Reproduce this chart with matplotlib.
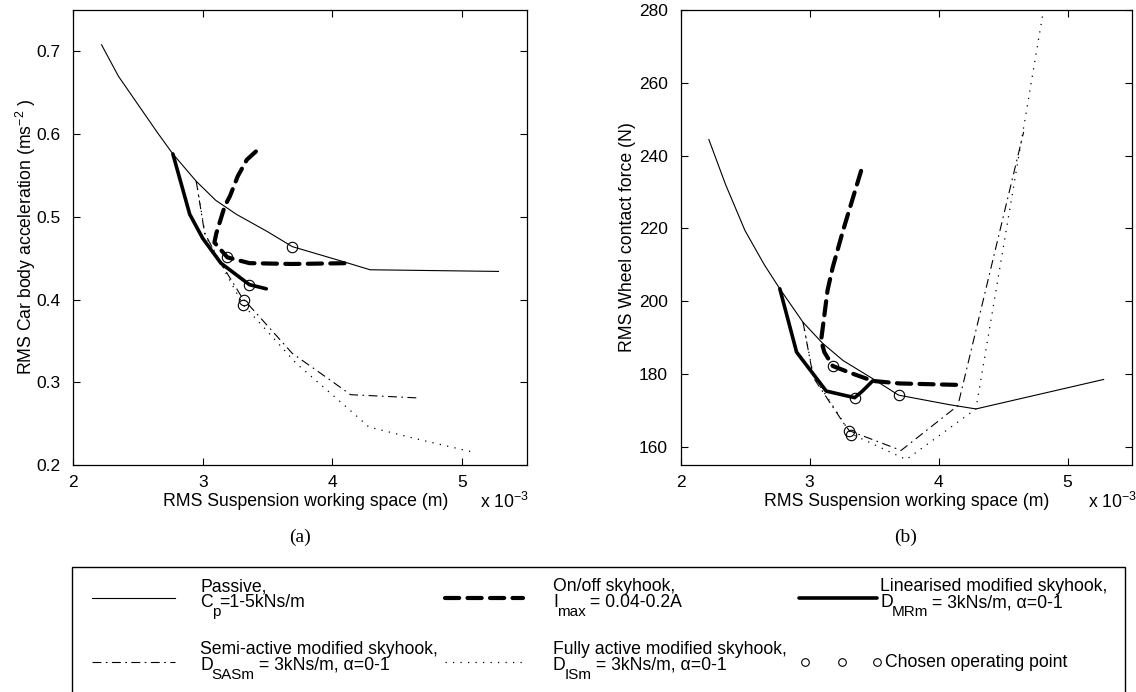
import matplotlib
matplotlib.use("Agg")
import matplotlib.pyplot as plt
from matplotlib.patches import Rectangle

plt.rcParams['font.family'] = ['Liberation Sans', 'DejaVu Sans']
plt.rcParams['mathtext.fontset'] = 'custom'
plt.rcParams['mathtext.rm'] = 'Liberation Sans'
plt.rcParams['mathtext.it'] = 'Liberation Sans:italic'
plt.rcParams['mathtext.bf'] = 'Liberation Sans:bold'

# ---------------- data: (a) RMS car body acceleration ----------------
passive_a_x = [2.22, 2.35, 2.5, 2.65, 2.77, 2.95, 3.1, 3.26, 3.5, 3.69, 4.08, 4.29, 5.28]
passive_a_y = [0.708, 0.67, 0.636, 0.602, 0.576, 0.543, 0.52, 0.503, 0.482, 0.464, 0.446, 0.436, 0.434]

onoff_a_x = [3.41, 3.34, 3.27, 3.21, 3.17, 3.105, 3.09, 3.19, 3.36, 3.69, 4.13]
onoff_a_y = [0.579, 0.569, 0.549, 0.525, 0.513, 0.48, 0.469, 0.451, 0.444, 0.443, 0.444]

lin_a_x = [2.77, 2.90, 3.0, 3.14, 3.36, 3.49]
lin_a_y = [0.576, 0.503, 0.474, 0.444, 0.418, 0.413]

semi_a_x = [2.95, 3.015, 3.14, 3.305, 3.41, 3.69, 3.98, 4.14, 4.67]
semi_a_y = [0.543, 0.48, 0.444, 0.402, 0.384, 0.335, 0.303, 0.285, 0.281]

full_a_x = [2.95, 3.02, 3.14, 3.31, 3.49, 3.72, 4.13, 4.28, 4.69, 5.1]
full_a_y = [0.543, 0.478, 0.443, 0.394, 0.363, 0.323, 0.267, 0.246, 0.230, 0.215]

chosen_a_x = [3.69, 3.19, 3.36, 3.32, 3.31]
chosen_a_y = [0.464, 0.451, 0.418, 0.399, 0.394]

# ---------------- data: (b) RMS wheel contact force ----------------
passive_b_x = [2.22, 2.35, 2.5, 2.65, 2.77, 2.95, 3.1, 3.26, 3.5, 3.69, 4.08, 4.29, 5.28]
passive_b_y = [244.4, 232.0, 219.4, 210.0, 203.4, 194.2, 188.5, 183.7, 178.5, 174.2, 171.6, 170.4, 178.5]

onoff_b_x = [3.40, 3.335, 3.26, 3.18, 3.14, 3.09, 3.115, 3.18, 3.31, 3.49, 3.70, 4.16]
onoff_b_y = [235.8, 228.2, 219.4, 209.3, 203.0, 189.2, 186.0, 182.2, 180.4, 178.1, 177.4, 177.0]

lin_b_x = [2.77, 2.90, 3.13, 3.35, 3.41, 3.49]
lin_b_y = [203.4, 186.0, 175.3, 173.5, 175.3, 178.1]

semi_b_x = [2.95, 3.03, 3.27, 3.31, 3.71, 4.15, 4.66]
semi_b_y = [194.2, 179.0, 166.2, 164.4, 159.0, 171.3, 246.5]

full_b_x = [2.95, 3.03, 3.32, 3.75, 4.29, 4.69, 5.10]
full_b_y = [194.2, 179.5, 163.6, 156.5, 170.4, 254.0, 340.0]

chosen_b_x = [3.69, 3.18, 3.35, 3.31, 3.32]
chosen_b_y = [174.2, 182.2, 173.5, 164.4, 163.2]

x_ticks = [2, 3, 4, 5]
a_yticks = [0.2, 0.3, 0.4, 0.5, 0.6, 0.7]
b_yticks = [160, 180, 200, 220, 240, 260, 280]

# ---------------- styles ----------------
W, H = 1136, 692
fig = plt.figure(figsize=(W / 100, H / 100), dpi=100)

FS = 12.7
st_passive = dict(color='black', lw=0.8, ls='-')
st_onoff = dict(color='black', lw=3.0, ls=(0, (3.4, 2.0)), dash_capstyle='round')
st_lin = dict(color='black', lw=2.6, ls='-', solid_capstyle='round', solid_joinstyle='round')
st_semi = dict(color='black', lw=0.8, ls=(0, (8, 4, 1.5, 4)))
st_full = dict(color='black', lw=0.9, ls=(0, (1, 5)))
st_circ = dict(ls='none', marker='o', ms=7.5, mfc='none', mec='black', mew=0.8)


def px_axes(x0, y0, x1, y1):
    return [x0 / W, 1 - y1 / H, (x1 - x0) / W, (y1 - y0) / H]


def style_axes(ax, ylim, yticks, yfmt):
    ax.set_xlim(2, 5.5)
    ax.set_ylim(*ylim)
    ax.set_xticks(x_ticks)
    ax.set_xticklabels([str(v) for v in x_ticks])
    ax.set_yticks(yticks)
    ax.set_yticklabels([yfmt(v) for v in yticks])
    ax.tick_params(direction='in', top=True, right=True, length=5, width=0.8,
                   labelsize=12.5)
    ax.tick_params(axis='x', pad=7)
    ax.tick_params(axis='y', pad=9)
    for s in ax.spines.values():
        s.set_linewidth(0.9)


def draw(ax, px, py, ox, oy, lx, ly, sx, sy, fx, fy, cx, cy):
    ax.plot(px, py, **st_passive)
    ax.plot(sx, sy, **st_semi)
    ax.plot(fx, fy, **st_full)
    ax.plot(lx, ly, **st_lin)
    ax.plot(ox, oy, **st_onoff)
    ax.plot(cx, cy, **st_circ)


ax1 = fig.add_axes(px_axes(73, 10, 527, 465))
draw(ax1, passive_a_x, passive_a_y, onoff_a_x, onoff_a_y, lin_a_x, lin_a_y,
     semi_a_x, semi_a_y, full_a_x, full_a_y, chosen_a_x, chosen_a_y)
style_axes(ax1, (0.2, 0.75), a_yticks, lambda v: f"{v:.1f}")

ax2 = fig.add_axes(px_axes(680.5, 10, 1132, 465))
draw(ax2, passive_b_x, passive_b_y, onoff_b_x, onoff_b_y, lin_b_x, lin_b_y,
     semi_b_x, semi_b_y, full_b_x, full_b_y, chosen_b_x, chosen_b_y)
style_axes(ax2, (155, 280), b_yticks, lambda v: f"{v:d}")

# overlay in pixel coordinates for labels and legend
ov = fig.add_axes([0, 0, 1, 1], zorder=5)
ov.set_xlim(0, W)
ov.set_ylim(H, 0)
ov.axis('off')
ov.patch.set_alpha(0)

renderer = fig.canvas.get_renderer()


def rich(x, y, parts, fs=FS, sfs=11.0, drop=9):
    for txt, sub in parts:
        t = ov.text(x, y + (drop if sub else 0), txt, fontsize=sfs if sub else fs,
                    ha='left', va='baseline')
        bb = t.get_window_extent(renderer)
        x += bb.width - 1
    return x


# axis labels
ov.text(306, 506, 'RMS Suspension working space (m)', fontsize=FS, ha='center', va='baseline')
ov.text(907, 506, 'RMS Suspension working space (m)', fontsize=FS, ha='center', va='baseline')
ov.text(480, 508, r'x 10$^{\mathregular{-3}}$', fontsize=FS, ha='left', va='baseline')
ov.text(1088, 508, r'x 10$^{\mathregular{-3}}$', fontsize=FS, ha='left', va='baseline')
ov.text(26, 237, r'RMS Car body acceleration (ms$^{\mathregular{-2}}$ )', fontsize=FS,
        rotation=90, ha='center', va='center')
ov.text(628, 237, 'RMS Wheel contact force (N)', fontsize=FS,
        rotation=90, ha='center', va='center')
ov.text(300, 537, '(a)', fontsize=14, family=['Liberation Serif', 'DejaVu Serif'],
        ha='center', va='center')
ov.text(906, 537, '(b)', fontsize=14, family=['Liberation Serif', 'DejaVu Serif'],
        ha='center', va='center')

# legend box
ov.add_patch(Rectangle((72, 567), 1053, 140, fill=False, lw=1.0, ec='black'))

rows = [598, 662]
base = [(591, 607), (654, 670)]
cols_line = [(92, 175), (445, 523), (799, 877)]
cols_text = [200, 553, 880]

entries = [
    (0, 0, st_passive, 'Passive,', [('C', False), ('p', True), ('=1-5kNs/m', False)]),
    (0, 1, st_onoff, 'On/off skyhook,', [('I', False), ('max', True), (' = 0.04-0.2A', False)]),
    (0, 2, st_lin, 'Linearised modified skyhook,', [('D', False), ('MRm', True), (' = 3kNs/m, α=0-1', False)]),
    (1, 0, st_semi, 'Semi-active modified skyhook,', [('D', False), ('SASm', True), (' = 3kNs/m, α=0-1', False)]),
    (1, 1, st_full, 'Fully active modified skyhook,', [('D', False), ('ISm', True), (' = 3kNs/m, α=0-1', False)]),
]
for r, c, st, t1, parts in entries:
    x0, x1 = cols_line[c]
    ov.plot([x0, x1], [rows[r], rows[r]], **st)
    ov.text(cols_text[c], base[r][0], t1, fontsize=FS, ha='left', va='baseline')
    rich(cols_text[c], base[r][1], parts)

ov.plot([805, 842, 877], [rows[1]] * 3, ls='none', marker='o', ms=5.5, mfc='none',
        mec='black', mew=0.8)
ov.text(885, 667, 'Chosen operating point', fontsize=FS, ha='left', va='baseline')

fig.savefig('out.png', dpi=100)
